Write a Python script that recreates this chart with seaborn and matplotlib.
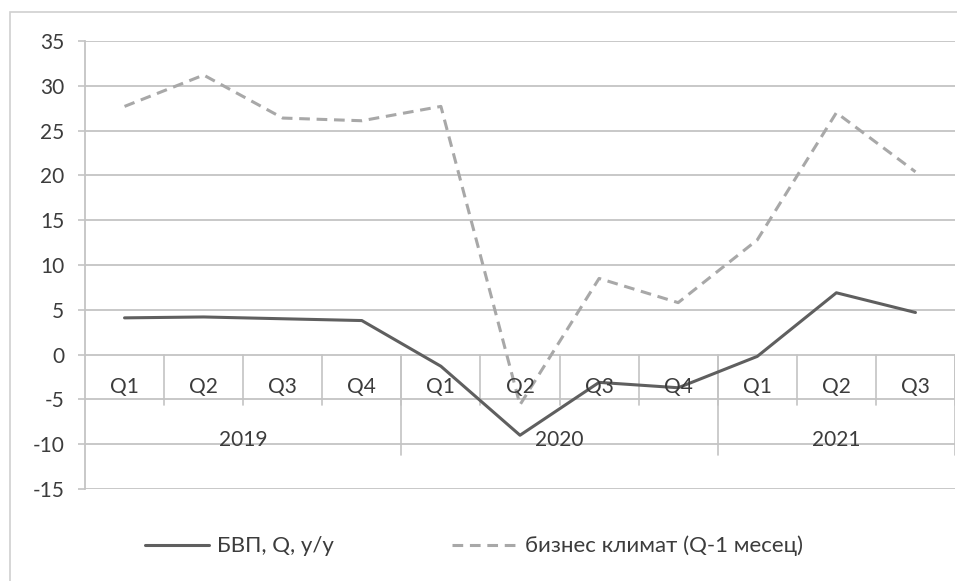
import matplotlib
matplotlib.use("Agg")
import matplotlib.pyplot as plt
import seaborn as sns
import pandas as pd
from matplotlib.patches import Rectangle

quarters = ["Q1", "Q2", "Q3", "Q4", "Q1", "Q2", "Q3", "Q4", "Q1", "Q2", "Q3"]
years = ["2019", "2020", "2021"]
year_sizes = [4, 4, 3]
gdp = [4.1, 4.2, 4.0, 3.8, -1.3, -9.0, -3.1, -3.7, -0.2, 6.9, 4.7]
business = [27.7, 31.2, 26.4, 26.1, 27.7, -5.6, 8.5, 5.8, 12.8, 27.0, 20.4]
yticks = [-15, -10, -5, 0, 5, 10, 15, 20, 25, 30, 35]
label_gdp = "БВП, Q, y/y"
label_bus = "бизнес климат (Q-1 месец)"

sns.set_theme(style="white")
plt.rcParams["font.family"] = ["Lato", "DejaVu Sans"]

FS = 15
TXT = "#3c3c3c"
GRID = "#c4c4c4"

fig = plt.figure(figsize=(9.57, 5.81), dpi=100)
fig.patches.append(Rectangle((10 / 957, -0.1), 1.2, 1 - 12 / 581 + 0.1,
                             transform=fig.transFigure, fill=False,
                             edgecolor="#d0d0d0", linewidth=1.2))
ax = fig.add_axes([85 / 957, 1 - 489 / 581, (955 - 85) / 957, (489 - 41) / 581])

df = pd.DataFrame({"x": range(len(gdp)), "gdp": gdp, "bus": business})

for y in yticks:
    ax.axhline(y, color=GRID, lw=1.3, zorder=0)

sns.lineplot(data=df, x="x", y="gdp", ax=ax, color="#5f5f5f", lw=2.2,
             label=label_gdp)
sns.lineplot(data=df, x="x", y="bus", ax=ax, color="#a8a8a8", lw=2.2,
             dashes=False, label=label_bus)
ax.lines[-1].set_dashes([3.5, 2.2])

ax.set_xlim(-0.5, len(gdp) - 0.5)
ax.set_ylim(-15, 35)
ax.set_yticks(yticks)
ax.set_yticklabels([str(v) for v in yticks], fontsize=FS, color=TXT)
ax.tick_params(axis="y", length=5, width=1.2, color=GRID, pad=10, left=True)
ax.set_xticks([])
ax.set_xlabel("")
ax.set_ylabel("")
for s in ["top", "right", "bottom"]:
    ax.spines[s].set_visible(False)
ax.spines["left"].set_color(GRID)
ax.spines["left"].set_linewidth(1.3)

# category axis labels
for i, q in enumerate(quarters):
    ax.text(i, -3.6, q, ha="center", va="center", fontsize=FS, color=TXT)
for i in range(1, len(quarters) + 1):
    ax.plot([i - 0.5, i - 0.5], [0, -5.6], color=GRID, lw=1.2, zorder=0)
start = 0
for yr, n in zip(years, year_sizes):
    center = start + (n - 1) / 2
    ax.text(center, -9.5, yr, ha="center", va="center", fontsize=FS, color=TXT)
    end = start + n - 0.5
    ax.plot([end, end], [0, -11.2], color=GRID, lw=1.2, zorder=0)
    start += n

ax.get_legend().remove()
handles, labels = ax.get_legend_handles_labels()
fig.legend(handles, labels, loc="center left",
           bbox_to_anchor=(145 / 957, 1 - 546 / 581), ncol=2,
           frameon=False, fontsize=16, handlelength=2.9, handletextpad=0.36,
           columnspacing=5.3, labelcolor=TXT, borderpad=0, borderaxespad=0)

fig.savefig("out.png", dpi=100)
